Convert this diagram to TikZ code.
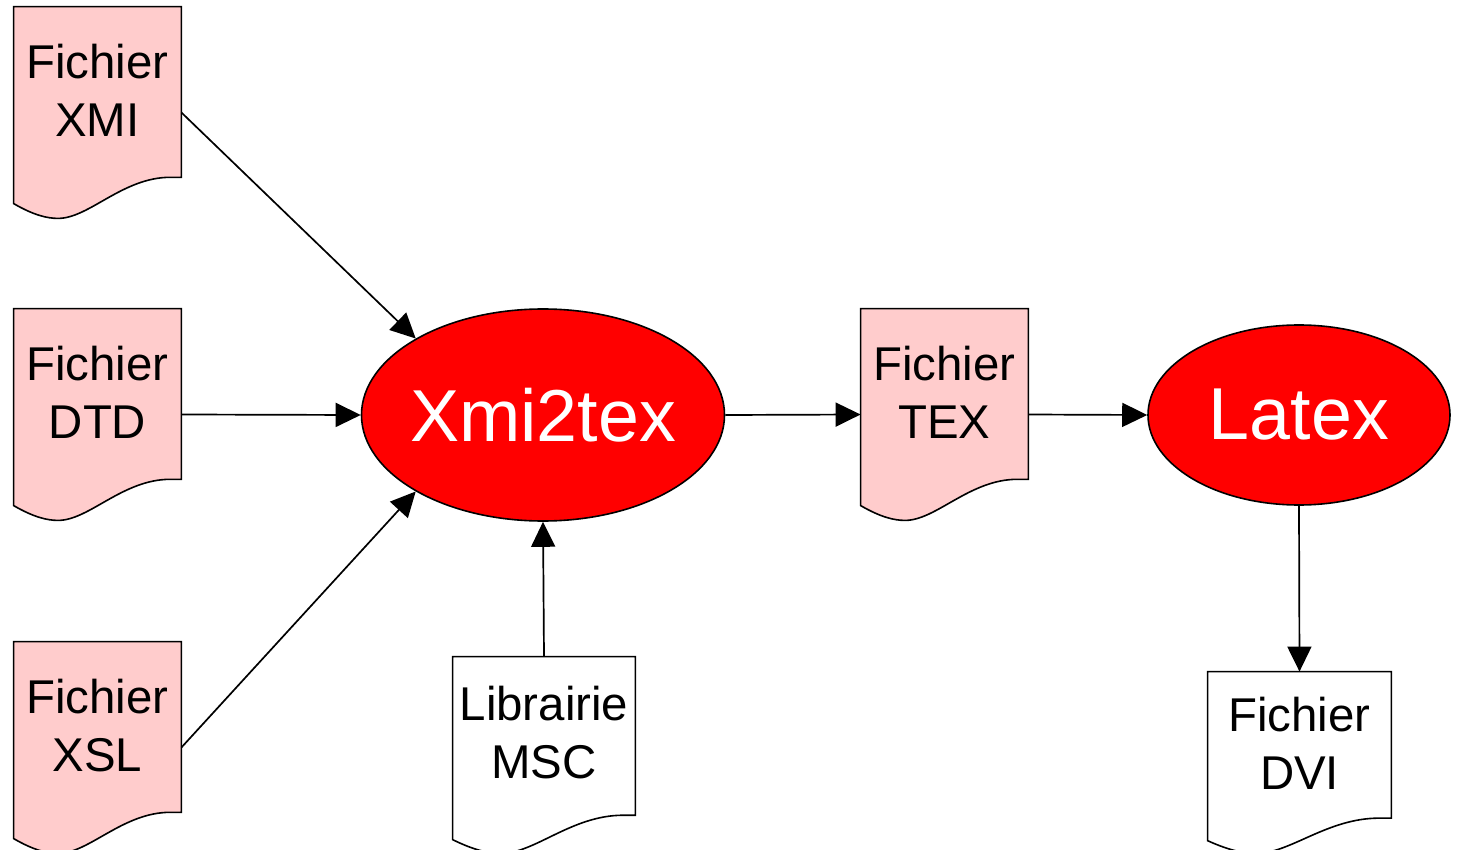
\documentclass[tikz,border=0pt]{standalone}
\usepackage{fontspec}
\setmainfont{Liberation Sans}
\usetikzlibrary{arrows.meta,calc,backgrounds,shapes.geometric}

\definecolor{docpink}{HTML}{FFCCCC}

\tikzset{
  docbox/.style={rectangle, inner sep=0pt, font=\fontsize{23.7}{29}\selectfont},
  proc/.style={ellipse, draw=black, line width=0.8pt, fill=red, text=white,
    inner xsep=-20pt, inner ysep=0pt, font=\fontsize{36.8}{43}\selectfont},
  flow/.style={-{Triangle[length=12.5pt,width=12pt]}, line width=0.85pt},
}

% page outline with a wavy bottom, behind the node
\newcommand{\docpage}[2]{%
  \begin{pgfonlayer}{background}
  \draw[line width=0.8pt, fill=#2]
    let \p1=(#1.north west), \p2=(#1.south east),
        \n1={\x2-\x1}, \n2={\y1-\y2} in
    (\x1,\y1) -- (\x2,\y1) -- (\x2,\y2+0.194*\n2)
    -- (\x1+0.934*\n1,\y2+0.194*\n2)
    .. controls (\x1+0.65*\n1,\y2+0.194*\n2) and (\x1+0.45*\n1,\y2) .. (\x1+0.265*\n1,\y2)
    .. controls (\x1+0.2*\n1,\y2) and (\x1+0.12*\n1,\y2+0.015*\n2) .. (\x1,\y2+0.07*\n2)
    -- cycle;
  \end{pgfonlayer}}

\begin{document}
\begin{tikzpicture}[x=0.5pt,y=-0.5pt]
\useasboundingbox (0,0) rectangle (1457,850);

\node[docbox, minimum width=83.5pt, minimum height=105.5pt] (xmi) at (97.5,112.5)
  {\begin{tabular}{@{}c@{}}Fichier\\XMI\\[17pt]\end{tabular}};
\node[docbox, minimum width=83.5pt, minimum height=105.5pt] (dtd) at (97.5,414.5)
  {\begin{tabular}{@{}c@{}}Fichier\\DTD\\[17pt]\end{tabular}};
\node[docbox, minimum width=83.5pt, minimum height=105.5pt] (xsl) at (97.5,747.5)
  {\begin{tabular}{@{}c@{}}Fichier\\XSL\\[17pt]\end{tabular}};
\node[docbox, minimum width=83.5pt, minimum height=105.5pt] (tex) at (944.5,414.5)
  {\begin{tabular}{@{}c@{}}Fichier\\TEX\\[17pt]\end{tabular}};
\node[docbox, minimum width=91pt, minimum height=98pt] (lib) at (544,755)
  {\begin{tabular}{@{}c@{}}Librairie\\MSC\\[17pt]\end{tabular}};
\node[docbox, minimum width=91.5pt, minimum height=90.5pt] (dvi) at (1299.5,762.5)
  {\begin{tabular}{@{}c@{}}Fichier\\DVI\\[14pt]\end{tabular}};

\docpage{xmi}{docpink}
\docpage{dtd}{docpink}
\docpage{xsl}{docpink}
\docpage{tex}{docpink}
\docpage{lib}{white}
\docpage{dvi}{white}

\node[proc, minimum width=181.5pt, minimum height=106pt] (xmi2tex) at (543,415) {Xmi2tex};
\node[proc, minimum width=151pt, minimum height=90pt] (latex) at (1299,415) {Latex};

\draw[flow] (xmi.east) -- (xmi2tex.149);
\draw[flow] (dtd.east) -- (xmi2tex.west);
\draw[flow] (xsl.east) -- (xmi2tex.211);
\draw[flow] (lib.north) -- (xmi2tex.south);
\draw[flow] (xmi2tex.east) -- (tex.west);
\draw[flow] (tex.east) -- (latex.west);
\draw[flow] (latex.south) -- (dvi.north);
\end{tikzpicture}
\end{document}
